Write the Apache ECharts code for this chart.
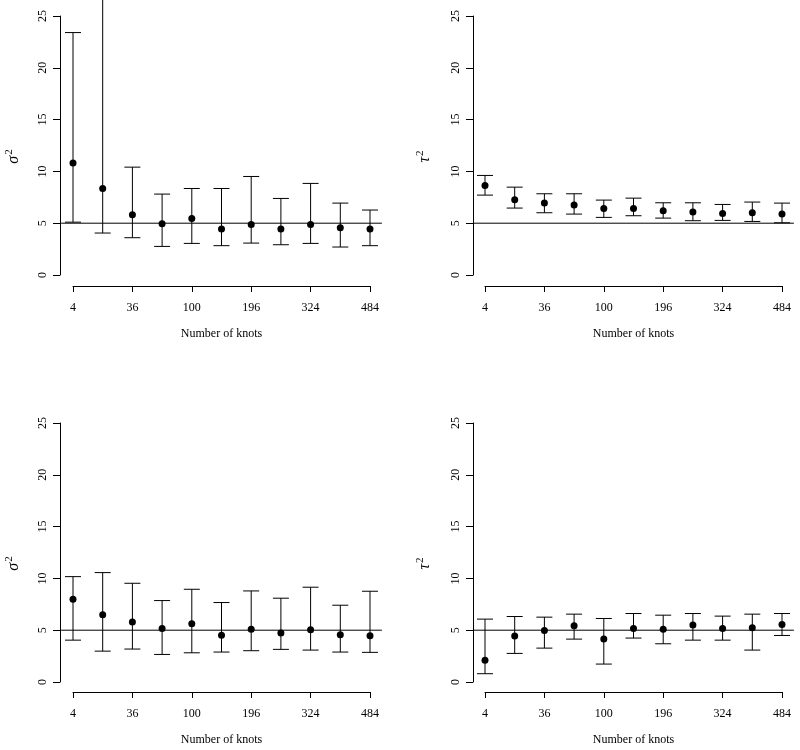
<!DOCTYPE html>
<html>
<head>
<meta charset="utf-8">
<script src="https://cdn.jsdelivr.net/npm/echarts@6/dist/echarts.min.js"></script>
<style>
  html, body { margin: 0; padding: 0; background: #fff; }
  #chart { width: 800px; height: 750px; }
</style>
</head>
<body>
<div id="chart"></div>
<script>
// Number of knots (categories)
const knots = [4, 16, 36, 64, 100, 144, 196, 256, 324, 400, 484];

// Panel 1: sigma^2 (top-left)
const sigmaAMean  = [10.8, 8.35, 5.82, 4.95, 5.46, 4.43, 4.88, 4.43, 4.88, 4.56, 4.43];
const sigmaALower = [5.1, 4.05, 3.6, 2.76, 3.05, 2.83, 3.08, 2.92, 3.05, 2.70, 2.83];
const sigmaAUpper = [23.4, 28.0, 10.41, 7.81, 8.35, 8.35, 9.51, 7.39, 8.84, 6.94, 6.27];

// Panel 2: tau^2 (top-right)
const tauAMean  = [8.64, 7.26, 6.94, 6.75, 6.43, 6.43, 6.20, 6.07, 5.94, 6.01, 5.88];
const tauALower = [7.71, 6.46, 6.01, 5.88, 5.56, 5.72, 5.49, 5.24, 5.27, 5.17, 5.04];
const tauAUpper = [9.61, 8.48, 7.84, 7.84, 7.23, 7.42, 6.97, 6.97, 6.81, 7.04, 6.94];

// Panel 3: sigma^2 (bottom-left)
const sigmaBMean  = [7.99, 6.48, 5.78, 5.17, 5.62, 4.52, 5.10, 4.72, 5.04, 4.56, 4.46];
const sigmaBLower = [4.04, 2.98, 3.18, 2.66, 2.82, 2.89, 3.02, 3.15, 3.08, 2.89, 2.86];
const sigmaBUpper = [10.17, 10.56, 9.53, 7.86, 8.95, 7.67, 8.79, 8.09, 9.15, 7.41, 8.76];

// Panel 4: tau^2 (bottom-right)
const tauBMean  = [2.09, 4.43, 4.97, 5.42, 4.14, 5.17, 5.10, 5.49, 5.17, 5.23, 5.55];
const tauBLower = [0.80, 2.76, 3.27, 4.14, 1.73, 4.24, 3.69, 4.04, 4.04, 3.08, 4.49];
const tauBUpper = [6.07, 6.32, 6.26, 6.55, 6.13, 6.61, 6.45, 6.61, 6.36, 6.55, 6.61];

// True value reference line
const trueValue = 5;

// Y axis ticks
const yMin = 0, yMax = 25, yStep = 5;
// X axis: every other knot labelled
const xLabelStep = 2;

const FONT = 'Liberation Serif';

const panels = [
  { name: 'σ', mean: sigmaAMean, lower: sigmaALower, upper: sigmaAUpper,
    grid: { left: 73, right: 430, top: 16, bottom: 475 }, yOff: 13, xOff: 11 },
  { name: 'τ', mean: tauAMean, lower: tauALower, upper: tauAUpper,
    grid: { left: 485, right: 18, top: 16, bottom: 475 }, yOff: 12, xOff: 11 },
  { name: 'σ', mean: sigmaBMean, lower: sigmaBLower, upper: sigmaBUpper,
    grid: { left: 73, right: 430, top: 423, bottom: 68 }, yOff: 13, xOff: 10 },
  { name: 'τ', mean: tauBMean, lower: tauBLower, upper: tauBUpper,
    grid: { left: 485, right: 18, top: 423, bottom: 68 }, yOff: 12, xOff: 10 }
];

const grids = [], xAxes = [], yAxes = [], series = [];
const axisLineStyle = { color: '#000', width: 1 };

panels.forEach((p, i) => {
  grids.push(Object.assign({ containLabel: false }, p.grid));
  xAxes.push({
    type: 'value', gridIndex: i, min: 0, max: knots.length - 1, interval: xLabelStep,
    position: 'bottom', offset: p.xOff,
    axisLine: { show: true, onZero: false, lineStyle: axisLineStyle },
    axisTick: { show: true, length: 6, lineStyle: axisLineStyle },
    splitLine: { show: false },
    axisLabel: {
      color: '#000', fontFamily: FONT, fontSize: 12, margin: 16,
      formatter: v => String(knots[Math.round(v)])
    },
    name: 'Number of knots', nameLocation: 'middle', nameGap: 42,
    nameTextStyle: { color: '#000', fontFamily: FONT, fontSize: 12 }
  });
  yAxes.push({
    type: 'value', gridIndex: i, min: yMin, max: yMax, interval: yStep,
    position: 'left', offset: p.yOff,
    axisLine: { show: true, onZero: false, lineStyle: axisLineStyle },
    axisTick: { show: true, length: 7, lineStyle: axisLineStyle },
    splitLine: { show: false },
    axisLabel: { color: '#000', fontFamily: FONT, fontSize: 12, rotate: 90, margin: 11 },
    name: '{s|' + p.name + '}{p|2}',
    nameLocation: 'middle', nameRotate: 90, nameGap: i % 2 === 0 ? 36 : 38,
    nameTextStyle: {
      color: '#000', fontFamily: FONT, padding: [0, 22, 0, 0],
      rich: {
        s: { fontFamily: FONT, fontSize: 16, fontStyle: 'italic', color: '#000' },
        p: { fontFamily: FONT, fontSize: 11, color: '#000', padding: [0, 0, 9, 1] }
      }
    }
  });

  // reference line spanning the plotting region (R pads the range by 4%)
  series.push({
    type: 'custom', xAxisIndex: i, yAxisIndex: i, silent: true, clip: false,
    data: [[trueValue]],
    renderItem: (params, api) => {
      const a = api.coord([0, api.value(0)]);
      const b = api.coord([knots.length - 1, api.value(0)]);
      const ext = (b[0] - a[0]) * 0.04;
      return { type: 'line', shape: { x1: a[0] - ext, y1: a[1], x2: b[0] + ext, y2: b[1] },
               style: { stroke: '#000', lineWidth: 1 } };
    }
  });

  // error bars
  series.push({
    type: 'custom', xAxisIndex: i, yAxisIndex: i, silent: true, clip: false,
    data: knots.map((k, j) => [j, p.lower[j], p.upper[j]]),
    renderItem: (params, api) => {
      const lo = api.coord([api.value(0), api.value(1)]);
      const hi = api.coord([api.value(0), api.value(2)]);
      const w = 8;
      const st = { stroke: '#000', lineWidth: 1 };
      return { type: 'group', children: [
        { type: 'line', shape: { x1: lo[0], y1: lo[1], x2: hi[0], y2: hi[1] }, style: st },
        { type: 'line', shape: { x1: lo[0] - w, y1: lo[1], x2: lo[0] + w, y2: lo[1] }, style: st },
        { type: 'line', shape: { x1: hi[0] - w, y1: hi[1], x2: hi[0] + w, y2: hi[1] }, style: st }
      ]};
    }
  });

  // point estimates
  series.push({
    type: 'scatter', xAxisIndex: i, yAxisIndex: i, silent: true,
    symbol: 'circle', symbolSize: 7,
    itemStyle: { color: '#000', opacity: 1 },
    data: knots.map((k, j) => [j, p.mean[j]])
  });
});

const chart = echarts.init(document.getElementById('chart'), null, { renderer: 'canvas' });
chart.setOption({
  animation: false,
  backgroundColor: '#fff',
  grid: grids, xAxis: xAxes, yAxis: yAxes, series: series
});
</script>
</body>
</html>
